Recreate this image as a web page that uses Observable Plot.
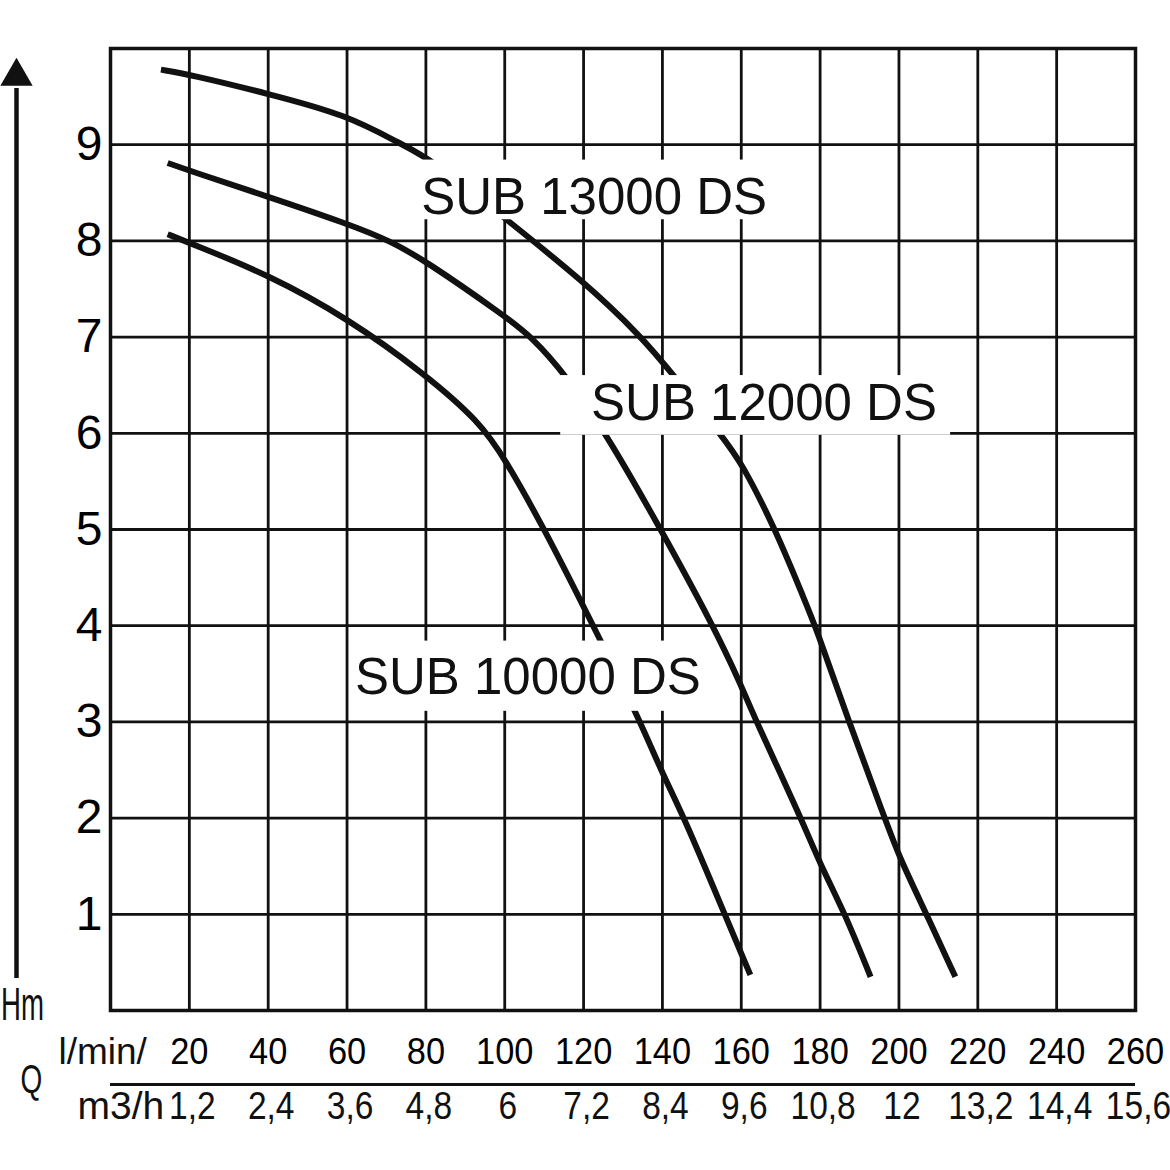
<!DOCTYPE html>
<html><head><meta charset="utf-8">
<script src="https://cdn.jsdelivr.net/npm/d3@7"></script>
<script src="https://cdn.jsdelivr.net/npm/@observablehq/plot@0.6"></script>
<style>
body{margin:0;background:#fff;}
#chart svg{display:block;}
</style></head><body><div id="chart"></div>
<script>
// Flow in l/min (top scale) and m3/h (bottom scale)
const lpmTicks = [20, 40, 60, 80, 100, 120, 140, 160, 180, 200, 220, 240, 260];
const m3hLabels = ["1,2", "2,4", "3,6", "4,8", "6", "7,2", "8,4", "9,6", "10,8", "12", "13,2", "14,4", "15,6"];
const hTicks = [1, 2, 3, 4, 5, 6, 7, 8, 9];

// SUB 13000 DS
const q13000 = [12.8, 20, 40, 60, 73.9, 81, 100.5, 120, 134.8, 142.7, 155.5, 160, 168.7, 175.9, 178.8, 187.3, 196.4, 200, 207, 214.3];
const h13000 = [9.78, 9.73, 9.53, 9.31, 9.0, 8.86, 8.22, 7.58, 7.0, 6.61, 5.95, 5.7, 5.0, 4.28, 4.0, 3.0, 2.0, 1.6, 1.0, 0.35];
// SUB 12000 DS
const q12000 = [14.5, 20, 40, 60, 71, 80, 100, 106.9, 115.4, 126, 139.6, 152.9, 160, 163.6, 175.2, 180, 186.4, 192.8];
const h12000 = [8.81, 8.73, 8.46, 8.18, 8.0, 7.79, 7.22, 7.0, 6.61, 5.98, 5.0, 4.0, 3.38, 3.02, 2.0, 1.52, 1.0, 0.35];
// SUB 10000 DS
const q10000 = [14.5, 20, 40, 60, 80, 93.6, 100, 110.1, 120, 133.7, 140, 145.6, 155.8, 162.3];
const h10000 = [8.07, 7.98, 7.65, 7.2, 6.61, 6.12, 5.74, 5.0, 4.2, 3.07, 2.46, 2.0, 1.0, 0.37];

const modelNames = ["SUB 13000 DS", "SUB 12000 DS", "SUB 10000 DS"];
const labelQ = [78.8, 121.9, 62.0];
const labelH = [8.45, 6.31, 3.46];
// white boxes behind labels (data units)
const boxQ1 = [78.7, 114.2, 60.9];
const boxQ2 = [172.5, 213.1, 150.9];
const boxH1 = [8.22, 5.98, 3.11];
const boxH2 = [8.84, 6.60, 3.84];

const series = [
  {name: modelNames[0], q: q13000, h: h13000},
  {name: modelNames[1], q: q12000, h: h12000},
  {name: modelNames[2], q: q10000, h: h10000}
];
const curves = series.flatMap(s => s.q.map((q, i) => ({model: s.name, q, h: s.h[i]})));
const labels = modelNames.map((name, i) => ({name, q: labelQ[i], h: labelH[i], q1: boxQ1[i], q2: boxQ2[i], h1: boxH1[i], h2: boxH2[i]}));
const m3h = lpmTicks.map((q, i) => ({q, label: m3hLabels[i]}));

const font = "'Liberation Sans', Arial, sans-serif";

const plot = Plot.plot({
  width: 1170,
  height: 1170,
  marginLeft: 110,
  marginRight: 35,
  marginTop: 48,
  marginBottom: 160,
  style: {background: "#fff", color: "#000", fontFamily: font},
  x: {domain: [0, 260]},
  y: {domain: [0, 10]},
  marks: [
    Plot.ruleX(lpmTicks, {stroke: "#111", strokeWidth: 2.8}),
    Plot.ruleY(hTicks, {stroke: "#111", strokeWidth: 2.8}),
    Plot.frame({stroke: "#111", strokeWidth: 3.5}),
    Plot.line(curves, {x: "q", y: "h", z: "model", stroke: "#111", strokeWidth: 6, curve: "basis", strokeLinecap: "butt"}),
    Plot.rect(labels, {x1: "q1", x2: "q2", y1: "h1", y2: "h2", fill: "white"}),
    Plot.text(labels, {x: "q", y: "h", text: "name", textAnchor: "start", fontSize: 51, fill: "#111"}),
    Plot.axisY(hTicks, {tickSize: 0, tickPadding: 8, fontSize: 48, label: null, tickFormat: d => String(d)}),
    Plot.axisX(lpmTicks, {tickSize: 0, tickPadding: 27, fontSize: 37, label: null, tickFormat: d => String(d)}),
    Plot.ruleY([0], {dy: 74, stroke: "#111", strokeWidth: 3}),
    Plot.text(m3h, {x: "q", text: "label", frameAnchor: "bottom", dy: 108, dx: 3, fontSize: 39, fill: "#111"}),
    Plot.text(["m3/h"], {text: d => d, frameAnchor: "bottom-left", dx: -33, dy: 108, textAnchor: "start", fontSize: 39, fill: "#111"}),
    Plot.text(["l/min/"], {text: d => d, frameAnchor: "bottom-left", dx: -52, dy: 27, lineAnchor: "top", textAnchor: "start", fontSize: 37, fill: "#111"}),
    Plot.text(["Q"], {text: d => d, frameAnchor: "bottom-left", dx: -79, dy: 82, textAnchor: "middle", fontSize: 40, fill: "#111"}),
    Plot.text(["Hm"], {text: d => d, frameAnchor: "bottom-left", dx: -88, dy: 9, textAnchor: "middle", fontSize: 46, fill: "#111"}),
    Plot.ruleX([0], {dx: -94, insetTop: 40, insetBottom: 32, stroke: "#111", strokeWidth: 4.5}),
    Plot.dot([0], {x: d => d, frameAnchor: "top", dx: -94, dy: 28, symbol: "triangle", r: 12, fill: "#111", stroke: "none"})
  ]
});

// Slightly narrow look of the printed scale numbers (horizontal squeeze about each text's anchor)
function squeeze(t, k) {
  const tr = t.getAttribute("transform");
  if (tr) {
    t.setAttribute("transform", tr + ` scale(${k},1)`);
  } else {
    const x = +(t.getAttribute("x") || 0);
    t.setAttribute("transform", `translate(${x},0) scale(${k},1) translate(${-x},0)`);
  }
}
plot.querySelectorAll('g[aria-label="x-axis tick label"] text').forEach(t => squeeze(t, 0.93));
const allTexts = Array.from(plot.querySelectorAll("text"));
const m3Anchor = allTexts.find(t => t.textContent === "10,8");
if (m3Anchor) m3Anchor.parentNode.querySelectorAll("text").forEach(t => squeeze(t, 0.86));
allTexts.filter(t => t.textContent === "Hm").forEach(t => squeeze(t, 0.6));
allTexts.filter(t => t.textContent === "Q").forEach(t => squeeze(t, 0.7));

document.getElementById("chart").append(plot);
</script></body></html>
